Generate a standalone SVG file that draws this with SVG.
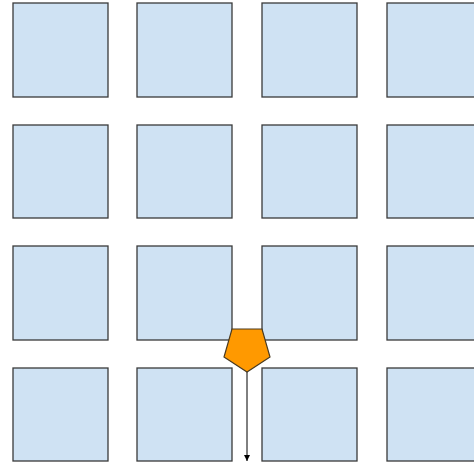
<svg xmlns="http://www.w3.org/2000/svg" width="474" height="466" viewBox="0 0 474 466">
<style>
.b{fill:#cfe2f3;stroke:#3a3a3a;stroke-width:1.3}
.p{fill:#ff9900;stroke:#4a3a20;stroke-width:1.2}
.c{stroke:#000;stroke-width:1;fill:none}
</style>
<defs><marker id="a" viewBox="0 0 10 10" refX="10" refY="5" markerWidth="6" markerHeight="6" markerUnits="userSpaceOnUse" orient="auto"><path d="M0,0L10,5L0,10z" fill="#000"/></marker></defs>
<rect width="474" height="466" fill="#fff"/>
<g id="r1c1"><rect class="b" x="13" y="3" width="95" height="94"/></g>
<g id="r1c2"><rect class="b" x="137" y="3" width="95" height="94"/></g>
<g id="r1c3"><rect class="b" x="262" y="3" width="95" height="94"/></g>
<g id="r1c4"><rect class="b" x="387" y="3" width="95" height="94"/></g>
<g id="r2c1"><rect class="b" x="13" y="125" width="95" height="93"/></g>
<g id="r2c2"><rect class="b" x="137" y="125" width="95" height="93"/></g>
<g id="r2c3"><rect class="b" x="262" y="125" width="95" height="93"/></g>
<g id="r2c4"><rect class="b" x="387" y="125" width="95" height="93"/></g>
<g id="r3c1"><rect class="b" x="13" y="246" width="95" height="94"/></g>
<g id="r3c2"><rect class="b" x="137" y="246" width="95" height="94"/></g>
<g id="r3c3"><rect class="b" x="262" y="246" width="95" height="94"/></g>
<g id="r3c4"><rect class="b" x="387" y="246" width="95" height="94"/></g>
<g id="r4c1"><rect class="b" x="13" y="368" width="95" height="93"/></g>
<g id="r4c2"><rect class="b" x="137" y="368" width="95" height="93"/></g>
<g id="r4c3"><rect class="b" x="262" y="368" width="95" height="93"/></g>
<g id="r4c4"><rect class="b" x="387" y="368" width="95" height="93"/></g>
<g id="connectors"><line class="c" x1="247" y1="372" x2="247" y2="461" marker-end="url(#a)"/></g>
<g id="pentagon"><polygon class="p" points="232,329 262,329 270,357 247,372 224,357"/></g>
</svg>
